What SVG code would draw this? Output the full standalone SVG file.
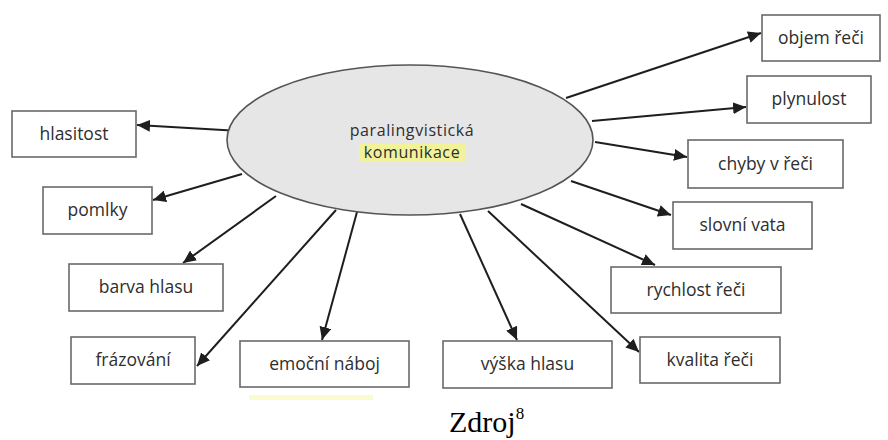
<svg xmlns="http://www.w3.org/2000/svg" width="888" height="440" viewBox="0 0 888 440">
  <style>
    .box { fill: #ffffff; stroke: #6a6a6a; stroke-width: 1.6; }
    .lbl { font-family: "Open Sans", "Noto Sans", "DejaVu Sans", sans-serif; font-size: 17.5px; fill: #2e2e2e; text-anchor: middle; }
    .title { font-size: 16px; letter-spacing: 0.6px; }
    .edge { stroke: #1e1e1e; stroke-width: 2; fill: none; marker-end: url(#arrow); }
  </style>
  <defs>
    <marker id="arrow" markerUnits="userSpaceOnUse" markerWidth="14" markerHeight="12" refX="13" refY="6" orient="auto">
      <path d="M0,0 L13,6 L0,12 Z" fill="#1e1e1e"/>
    </marker>
  </defs>
  <rect width="888" height="440" fill="#ffffff"/>

  <!-- connectors from the central ellipse -->
  <g id="connectors">
    <line class="edge" x1="240" y1="131" x2="137" y2="125"/>
    <line class="edge" x1="242" y1="174" x2="153" y2="200"/>
    <line class="edge" x1="276" y1="196" x2="183" y2="263"/>
    <line class="edge" x1="336" y1="210" x2="197" y2="366"/>
    <line class="edge" x1="357" y1="212" x2="322" y2="340"/>
    <line class="edge" x1="460" y1="214" x2="517" y2="340"/>
    <line class="edge" x1="488" y1="211" x2="639" y2="352"/>
    <line class="edge" x1="521" y1="204" x2="655" y2="265"/>
    <line class="edge" x1="571" y1="181" x2="671" y2="215"/>
    <line class="edge" x1="595" y1="142" x2="687" y2="157"/>
    <line class="edge" x1="592" y1="121" x2="746" y2="107"/>
    <line class="edge" x1="566" y1="98" x2="761" y2="33"/>
  </g>

  <!-- central concept -->
  <g id="center">
    <ellipse cx="410" cy="140" rx="183" ry="75" fill="#e6e6e6" stroke="#555555" stroke-width="1.6"/>
    <rect x="359" y="144" width="106" height="18" fill="#f1f29a"/>
    <text class="lbl title" x="412" y="136">paralingvistická</text>
    <text class="lbl title" x="412" y="158">komunikace</text>
  </g>

  <!-- left side -->
  <g id="hlasitost">
    <rect class="box" x="12" y="111" width="124" height="46"/>
    <text class="lbl" x="74" y="140">hlasitost</text>
  </g>
  <g id="pomlky">
    <rect class="box" x="43" y="187" width="109" height="47"/>
    <text class="lbl" x="97.5" y="216">pomlky</text>
  </g>
  <g id="barva-hlasu">
    <rect class="box" x="69" y="264" width="154" height="47"/>
    <text class="lbl" x="146" y="293">barva hlasu</text>
  </g>
  <g id="frazovani">
    <rect class="box" x="71" y="337" width="124" height="47"/>
    <text class="lbl" x="133" y="366">frázování</text>
  </g>

  <!-- bottom -->
  <g id="emocni-naboj">
    <rect class="box" x="240" y="341" width="169" height="46"/>
    <text class="lbl" x="324.5" y="370">emoční náboj</text>
    <rect x="249" y="395" width="124" height="5" fill="#fbfbd0"/>
  </g>
  <g id="vyska-hlasu">
    <rect class="box" x="443" y="341" width="169" height="47"/>
    <text class="lbl" x="527.5" y="370">výška hlasu</text>
  </g>
  <g id="kvalita-reci">
    <rect class="box" x="640" y="337" width="140" height="46"/>
    <text class="lbl" x="710" y="366">kvalita řeči</text>
  </g>

  <!-- right side -->
  <g id="objem-reci">
    <rect class="box" x="762" y="15" width="118" height="46"/>
    <text class="lbl" x="821" y="44">objem řeči</text>
  </g>
  <g id="plynulost">
    <rect class="box" x="747" y="76" width="124" height="47"/>
    <text class="lbl" x="809" y="105">plynulost</text>
  </g>
  <g id="chyby-v-reci">
    <rect class="box" x="688" y="140" width="155" height="48"/>
    <text class="lbl" x="765.5" y="170">chyby v řeči</text>
  </g>
  <g id="slovni-vata">
    <rect class="box" x="673" y="202" width="139" height="47"/>
    <text class="lbl" x="742.5" y="231">slovní vata</text>
  </g>
  <g id="rychlost-reci">
    <rect class="box" x="611" y="267" width="170" height="46"/>
    <text class="lbl" x="696" y="296">rychlost řeči</text>
  </g>

  <!-- source caption -->
  <text x="449" y="432" font-family="'Liberation Serif', 'Times New Roman', serif" font-size="30" fill="#000000">Zdroj<tspan font-size="17" dy="-13">8</tspan></text>
</svg>
